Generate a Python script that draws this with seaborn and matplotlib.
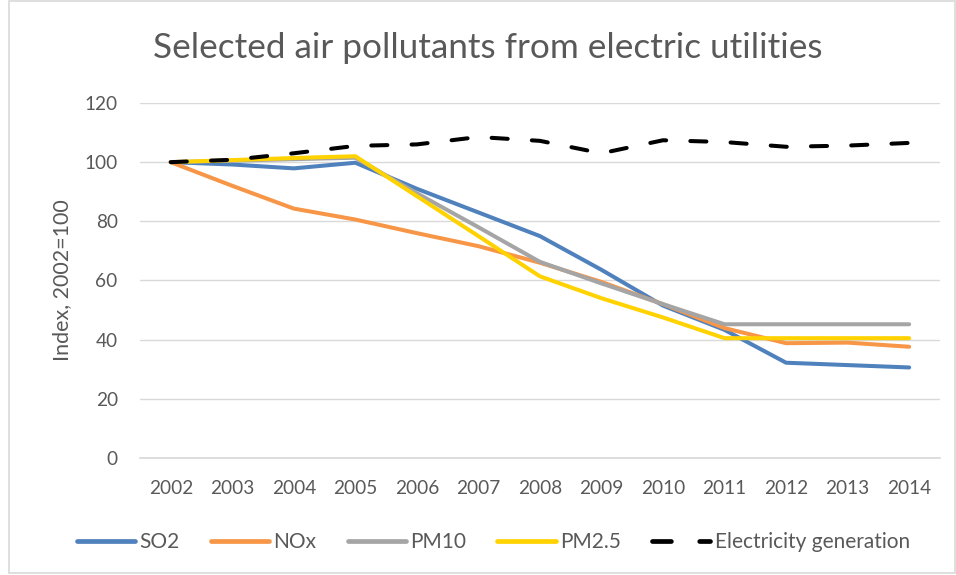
"""Selected air pollutants from electric utilities, index 2002=100."""

import matplotlib

matplotlib.use("Agg")

import matplotlib.pyplot as plt
import pandas as pd
import seaborn as sns

YEARS = list(range(2002, 2015))
SO2 = [100, 99.2, 97.9, 99.8, 91, 83, 75, 63.6, 51.5, 43.3, 32.2, 31.4, 30.6]
NOX = [100, 92, 84.3, 80.6, 76, 71.6, 66, 59.5, 52, 43.9, 38.8, 39, 37.6]
PM10 = [100, 100.5, 101, 101.5, 89.5, 78, 66.3, 59, 52, 45.2, 45.2, 45.2, 45.2]
PM25 = [100, 100.7, 101.4, 102, 88.5, 75, 61.4, 54, 47.5, 40.5, 40.5, 40.5, 40.5]
ELECTRICITY = [100, 100.8, 103, 105.5, 106, 108.5, 107.2, 103, 107.4, 106.8, 105.2, 105.6, 106.5]

SERIES = {
    "SO2": SO2,
    "NOx": NOX,
    "PM10": PM10,
    "PM2.5": PM25,
    "Electricity generation": ELECTRICITY,
}
COLORS = {
    "SO2": "#4F81BD",
    "NOx": "#F79646",
    "PM10": "#A5A5A5",
    "PM2.5": "#FFD200",
    "Electricity generation": "#000000",
}
DASHES = {
    "SO2": "",
    "NOx": "",
    "PM10": "",
    "PM2.5": "",
    "Electricity generation": (4.0, 6.0),
}

TEXT_GREY = "#595959"
GRID_GREY = "#D9D9D9"


def main() -> None:
    sns.set_theme(style="white")
    plt.rcParams["font.family"] = ["Lato", "DejaVu Sans"]

    data = pd.DataFrame(
        [
            {"year": year, "value": value, "series": name}
            for name, values in SERIES.items()
            for year, value in zip(YEARS, values)
        ]
    )

    fig = plt.figure(figsize=(9.56, 5.75), dpi=100)
    ax = fig.add_axes([0.1464, 0.2035, 0.8368, 0.6174])
    sns.lineplot(
        data=data,
        x="year",
        y="value",
        hue="series",
        style="series",
        palette=COLORS,
        dashes=DASHES,
        linewidth=2.9,
        ax=ax,
    )
    for line in ax.lines:
        line.set_dash_capstyle("round")
        line.set_solid_capstyle("round")

    ax.set_xlim(2001.5, 2014.5)
    ax.set_ylim(0, 120)
    ax.set_xticks(YEARS)
    ax.set_yticks(range(0, 121, 20))
    ax.tick_params(axis="both", length=0, labelsize=13.7, colors=TEXT_GREY)
    ax.tick_params(axis="y", pad=16)
    ax.tick_params(axis="x", pad=16)
    ax.grid(axis="y", color=GRID_GREY, linewidth=1)
    ax.set_axisbelow(True)
    for side in ("left", "top", "right"):
        ax.spines[side].set_visible(False)
    ax.spines["bottom"].set_color(GRID_GREY)
    ax.set_xlabel("")
    ax.set_ylabel("Index, 2002=100", fontsize=15.5, color=TEXT_GREY, labelpad=9)

    fig.text(0.51, 0.917, "Selected air pollutants from electric utilities",
             ha="center", va="center", fontsize=25.3, color=TEXT_GREY)

    handles, labels = ax.get_legend_handles_labels()
    for handle in handles:
        handle.set_linewidth(3.4)
    ax.legend(
        handles,
        labels,
        loc="center",
        bbox_to_anchor=(0.516, 0.057),
        bbox_transform=fig.transFigure,
        ncol=5,
        frameon=False,
        fontsize=15,
        labelcolor=TEXT_GREY,
        handlelength=2.8,
        handletextpad=0.2,
        columnspacing=1.5,
    )

    fig.patches.append(
        plt.Rectangle((0.009, 0.004), 0.99, 0.995, transform=fig.transFigure,
                      fill=False, edgecolor=GRID_GREY, linewidth=1.2)
    )
    fig.savefig("out.png", dpi=100)
    plt.close(fig)


if __name__ == "__main__":
    main()
